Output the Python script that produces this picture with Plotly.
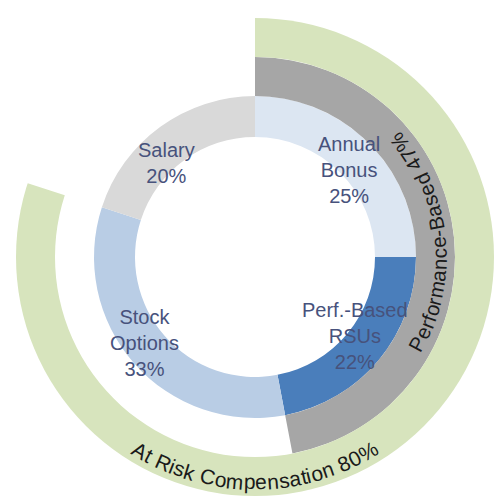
import math
import plotly.graph_objects as go

# ---- data ----
components = ["Annual Bonus", "Perf.-Based RSUs", "Stock Options", "Salary"]
component_pct = [25, 22, 33, 20]
component_labels = ["Annual<br>Bonus<br>25%", "Perf.-Based<br>RSUs<br>22%",
                    "Stock<br>Options<br>33%", "Salary<br>20%"]
perf_based_pct = 47
at_risk_pct = 80
perf_label = "Performance-Based 47%"
risk_label = "At Risk Compensation 80%"

# ---- style ----
W, H = 494, 497
CX, CY = 255, 257          # centre in pixels (from top-left)
R_PLOT = 239
comp_colors = ["#dce6f2", "#4a7ebb", "#b9cde5", "#d9d9d9"]
gray = "#a6a6a6"
green = "#d7e4bd"
inner_text = "#47527c"
ring_text = "#1a1a1a"
FONT = "Liberation Sans, Arial, sans-serif"

R0, R1, R2, R3 = 120, 161, 200, 243

fig = go.Figure()

# inner ring
start = 0.0
for name, pct, col in zip(components, component_pct, comp_colors):
    span = pct * 3.6
    fig.add_trace(go.Barpolar(theta=[start + span / 2], width=[span], r=[R1 - R0], base=[R0],
                              marker=dict(color=col, line=dict(width=0)), name=name,
                              hoverinfo="skip"))
    start += span

# performance-based ring
span = perf_based_pct * 3.6
fig.add_trace(go.Barpolar(theta=[span / 2], width=[span], r=[R2 - R1], base=[R1],
                          marker=dict(color=gray, line=dict(width=0)), hoverinfo="skip"))
# at risk ring
span = at_risk_pct * 3.6
fig.add_trace(go.Barpolar(theta=[span / 2], width=[span], r=[R3 - R2], base=[R2],
                          marker=dict(color=green, line=dict(width=0)), hoverinfo="skip"))

annotations = []
# inner labels (pixel centres)
label_pos = [(349, 170), (355, 336), (144, 343), (166, 163)]
for txt, (px, py) in zip(component_labels, label_pos):
    annotations.append(dict(x=px / W, y=1 - py / H, xref="paper", yref="paper",
                            text=txt, showarrow=False, xanchor="center", yanchor="middle",
                            font=dict(family=FONT, size=20, color=inner_text)))

# curved labels, one character per annotation
WID = {" ": 278, "A": 667, "B": 667, "C": 722, "P": 667, "R": 722, "a": 556, "c": 500,
       "d": 556, "e": 556, "f": 278, "i": 222, "k": 500, "m": 833, "n": 556, "o": 556,
       "p": 556, "r": 333, "s": 500, "t": 278, "-": 333, "%": 889}


def curved(text, center_deg, radius, size):
    widths = [WID.get(ch, 556) / 1000 * size for ch in text]
    total = sum(widths)
    pos = -total / 2
    for ch, w in zip(text, widths):
        mid = pos + w / 2
        pos += w
        if ch == " ":
            continue
        ang = center_deg - math.degrees(mid / radius)
        a = math.radians(ang)
        px = CX + radius * math.sin(a)
        py = CY - radius * math.cos(a)
        annotations.append(dict(x=px / W, y=1 - py / H, xref="paper", yref="paper",
                                text=ch, showarrow=False, xanchor="center", yanchor="middle",
                                textangle=ang - 180,
                                font=dict(family=FONT, size=size, color=ring_text)))


curved(perf_label, perf_based_pct * 3.6 / 2, 184, 20.5)
curved(risk_label, 180, 225, 21)

fig.update_layout(
    width=W, height=H, margin=dict(l=0, r=0, t=0, b=0),
    paper_bgcolor="white", showlegend=False,
    polar=dict(
        domain=dict(x=[(CX - (W - CX)) / W, 1], y=[0, 2 * (H - CY) / H]),
        bgcolor="white", bargap=0,
        radialaxis=dict(range=[0, R_PLOT], visible=False, showgrid=False, showline=False),
        angularaxis=dict(rotation=90, direction="clockwise", visible=False,
                         showgrid=False, showline=False, showticklabels=False, ticks=""),
    ),
    annotations=annotations,
)

fig.write_html("out.html", config={"displayModeBar": False},
               post_script="document.body.style.margin='0';document.body.style.overflow='hidden';")
